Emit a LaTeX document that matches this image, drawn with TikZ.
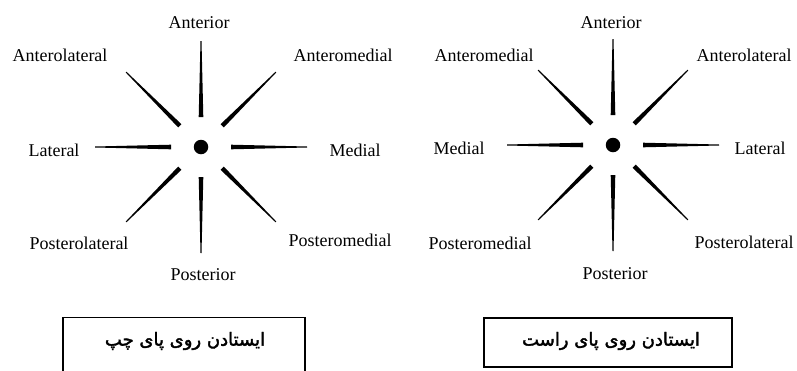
\documentclass[tikz,border=0pt]{standalone}
\usepackage{fontspec}
\setmainfont{Liberation Serif}
\newfontfamily\arabicfont[Script=Arabic, AutoFakeBold=2]{DejaVu Sans}
\TeXXeTstate=1
\usetikzlibrary{calc}

\begin{document}
\begin{tikzpicture}[x=1pt, y=-1pt,
    lbl/.style={font=\fontsize{18}{20}\selectfont, inner sep=0pt},
    dot/.style={circle, fill, inner sep=0pt, minimum size=14.5pt},
    framebox/.style={draw, line width=1.4pt},
    boxtext/.style={font=\arabicfont\bfseries\fontsize{18}{20}\selectfont, inner sep=0pt}]
    \useasboundingbox (0,0) rectangle (797,370);

    % left foot
    \node[dot] at (201, 147) (lc) {};
    \node[lbl] at (199, 23) (lant) {Anterior};
    \node[lbl] at (343, 55) (lam) {Anteromedial};
    \node[lbl] at (60, 55) (lal) {Anterolateral};
    \node[lbl] at (54, 150) (llat) {Lateral};
    \node[lbl] at (355, 150) (lmed) {Medial};
    \node[lbl] at (79, 243) (lpl) {Posterolateral};
    \node[lbl] at (340, 240) (lpm) {Posteromedial};
    \node[lbl] at (203, 275) (lpost) {Posterior};

    % right foot
    \node[dot] at (613, 145) (rc) {};
    \node[lbl] at (611, 23) (rant) {Anterior};
    \node[lbl] at (484, 55) (ram) {Anteromedial};
    \node[lbl] at (744, 55) (ral) {Anterolateral};
    \node[lbl] at (459, 148) (rmed) {Medial};
    \node[lbl] at (760, 148) (rlat) {Lateral};
    \node[lbl] at (480, 243) (rpm) {Posteromedial};
    \node[lbl] at (744, 242) (rpl) {Posterolateral};
    \node[lbl] at (615, 274) (rpost) {Posterior};

    % tapered spokes
    \foreach \c in {lc, rc} {
        \foreach \a in {0, 45, ..., 315} {
            \fill ($(\c)+(\a:30)+(\a+90:2.3)$) -- ($(\c)+(\a:106)+(\a+90:0.5)$)
                -- ($(\c)+(\a:106)+(\a-90:0.5)$) -- ($(\c)+(\a:30)+(\a-90:2.3)$) -- cycle;
        }
    }

    % boxes
    \node[framebox, minimum width=242pt, minimum height=60pt, anchor=north] at (184, 317) (lbox) {};
    \node[boxtext] at (185, 341) (ltext) {\beginR ایستادن روی پای چپ\endR};
    \node[framebox, minimum width=248pt, minimum height=49pt] at (608, 342.5) (rbox) {};
    \node[boxtext] at (611, 341) (rtext) {\beginR ایستادن روی پای راست\endR};
\end{tikzpicture}
\end{document}
